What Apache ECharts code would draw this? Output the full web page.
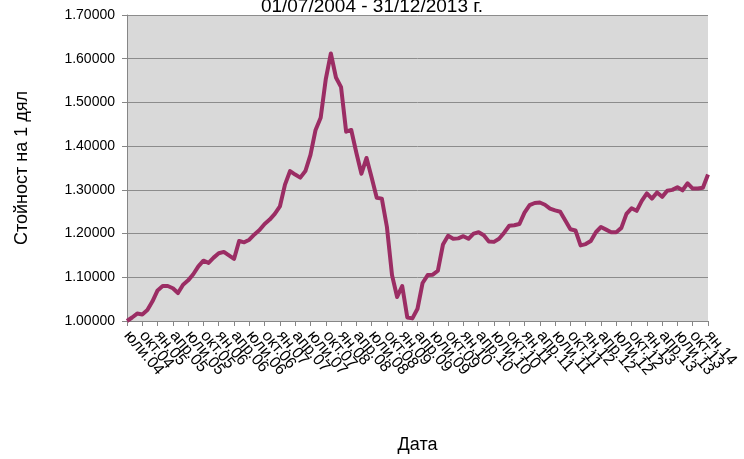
<!DOCTYPE html>
<html>
<head>
<meta charset="utf-8">
<script src="https://cdn.jsdelivr.net/npm/echarts@6/dist/echarts.min.js"></script>
<style>html,body{margin:0;padding:0;background:#fff}#c{width:744px;height:459px}</style>
</head>
<body>
<div id="c"></div>
<script>
const titleText = '01/07/2004 - 31/12/2013 г.';
const yAxisTitle = 'Стойност на 1 дял';
const xAxisTitle = 'Дата';
const monthNames = ['ян','фев','мар','апр','май','юни','юли','авг','сеп','окт','ное','дек'];
const startYear = 4, startMonth = 6, monthCount = 115;
const labelEvery = 3;
const categories = [];
for (let k = 0; k < monthCount; k++) {
  const m = (startMonth + k) % 12;
  const y = startYear + Math.floor((startMonth + k) / 12);
  categories.push(monthNames[m] + '.' + String(y).padStart(2, '0'));
}
const unitValues = [
  1.000, 1.008, 1.017, 1.015, 1.025, 1.045, 1.070, 1.080, 1.080, 1.075,
  1.064, 1.083, 1.093, 1.107, 1.125, 1.138, 1.133, 1.145, 1.155, 1.158,
  1.150, 1.142, 1.183, 1.180, 1.186, 1.198, 1.208, 1.222, 1.232, 1.245,
  1.262, 1.312, 1.343, 1.335, 1.328, 1.343, 1.380, 1.437, 1.465, 1.553,
  1.612, 1.557, 1.535, 1.433, 1.437, 1.385, 1.337, 1.373, 1.328, 1.282,
  1.280, 1.215, 1.105, 1.055, 1.080, 1.008, 1.006, 1.028, 1.087, 1.105,
  1.106, 1.115, 1.175, 1.195, 1.188, 1.189, 1.194, 1.188, 1.200, 1.203,
  1.196, 1.182, 1.181, 1.188, 1.202, 1.218, 1.219, 1.222, 1.248, 1.265,
  1.270, 1.271, 1.266, 1.257, 1.253, 1.250, 1.230, 1.210, 1.207, 1.173,
  1.176, 1.183, 1.203, 1.215, 1.209, 1.203, 1.203, 1.213, 1.245, 1.258,
  1.252, 1.275, 1.292, 1.280, 1.294, 1.284, 1.298, 1.300, 1.306, 1.299,
  1.315, 1.303, 1.303, 1.305, 1.335
];
const yMin = 1.0, yMax = 1.7, yStep = 0.1;

const chart = echarts.init(document.getElementById('c'), null, {renderer: 'canvas'});
const font = '"Liberation Sans", Arial, sans-serif';
chart.setOption({
  animation: false,
  backgroundColor: '#ffffff',
  title: {
    text: titleText, left: 'center', top: -8,
    textStyle: {fontFamily: font, fontSize: 19, fontWeight: 'normal', color: '#000'}
  },
  grid: {left: 127, right: 36, top: 15, bottom: 134, show: true, backgroundColor: '#d9d9d9', borderWidth: 0},
  xAxis: {
    type: 'category', data: categories, boundaryGap: false,
    name: xAxisTitle, nameLocation: 'middle', nameGap: 115,
    nameTextStyle: {fontFamily: font, fontSize: 18, color: '#000'},
    axisLine: {lineStyle: {color: '#868686', width: 1}},
    axisTick: {interval: labelEvery - 1, length: 5, lineStyle: {color: '#868686'}},
    axisLabel: {interval: 0, rotate: -50, fontFamily: font, fontSize: 16, color: '#000', margin: 12,
      hideOverlap: false,
      formatter: (v, i) => (i % labelEvery === 0 ? v : '')},
    splitLine: {show: false}
  },
  yAxis: {
    type: 'value', min: yMin, max: yMax, interval: yStep,
    name: yAxisTitle, nameLocation: 'middle', nameGap: 96,
    nameTextStyle: {fontFamily: font, fontSize: 18, color: '#000'},
    axisLine: {show: true, lineStyle: {color: '#868686', width: 1}},
    axisTick: {show: true, length: 5, lineStyle: {color: '#868686'}},
    axisLabel: {fontFamily: font, fontSize: 14, color: '#000', margin: 12, formatter: v => v.toFixed(5)},
    splitLine: {lineStyle: {color: '#8c8c8c', width: 1}}
  },
  series: [{
    type: 'line', data: unitValues, symbol: 'none',
    lineStyle: {color: '#9b2d64', width: 4, join: 'round'}
  }]
});
</script>
</body>
</html>
